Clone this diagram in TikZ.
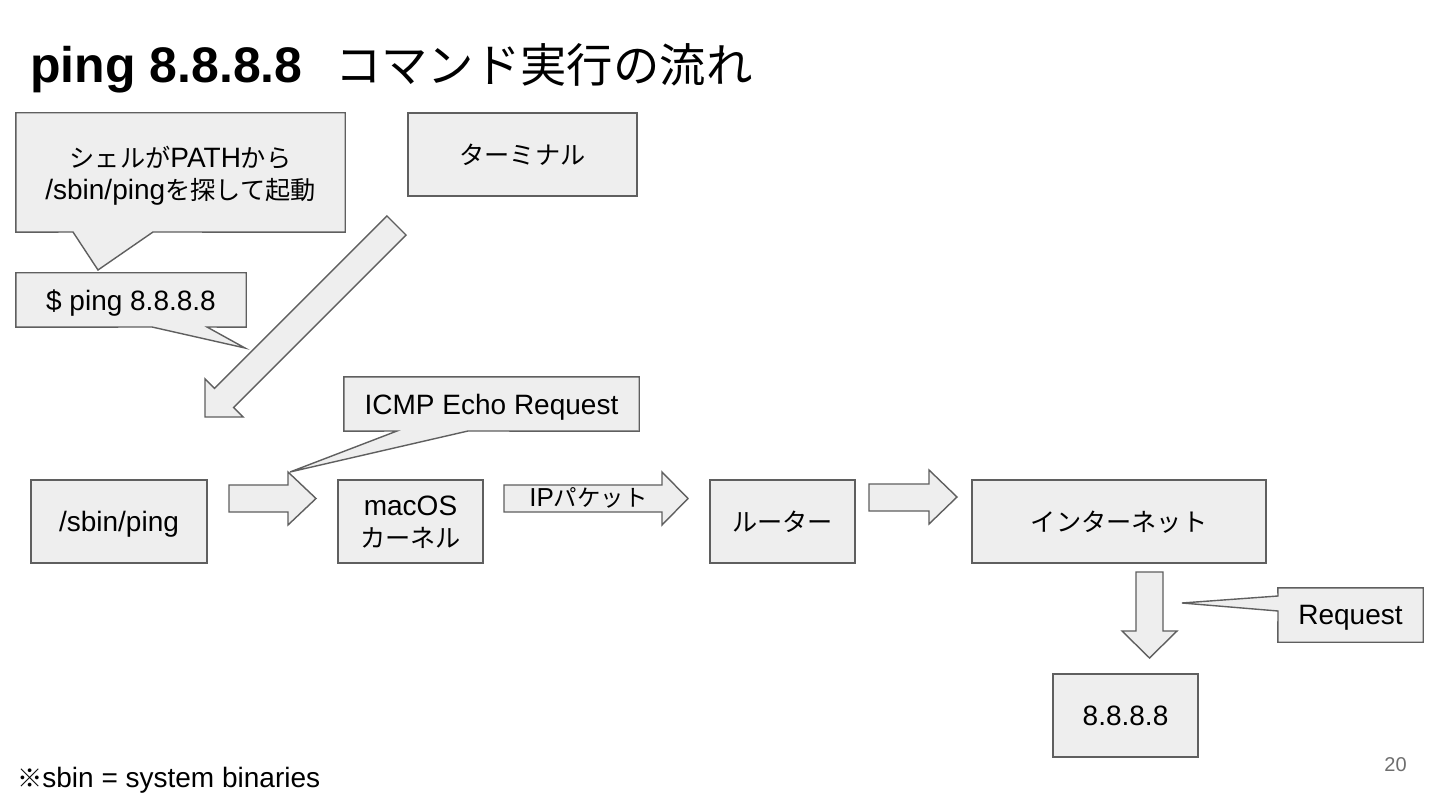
\documentclass[tikz,border=0pt]{standalone}
\usepackage{fontspec}
\setmainfont{Liberation Sans}
\newfontfamily\jp{Noto Sans CJK JP}[Scale=0.9]
\definecolor{bd}{HTML}{5F5F5F}
\definecolor{bg}{HTML}{EEEEEE}
\definecolor{pg}{HTML}{6E6E6E}
\pgfdeclarelayer{bgl}
\pgfsetlayers{bgl,main}
\begin{document}
\begin{tikzpicture}[x=1pt,y=-1pt,
  box/.style={draw=bd,fill=bg,line width=1.4pt,inner sep=0pt,align=center,
    text depth=0pt,font=\fontsize{28}{32}\selectfont},
  callbox/.style={inner sep=0pt,align=center,text depth=0pt,font=\fontsize{28}{32}\selectfont},
  shapeline/.style={draw=bd,fill=bg,line width=1.4pt,line join=miter}]
\useasboundingbox (0,0) rectangle (1440,810);
\begin{pgfonlayer}{bgl}
\fill[white] (0,0) rectangle (1440,810);
\end{pgfonlayer}

% title
\node[inner sep=0pt,anchor=base west,font=\fontsize{50}{56}\selectfont\bfseries] (title) at (30,83) {ping 8.8.8.8};
\node[inner sep=0pt,anchor=base west,font=\fontsize{51.5}{56}\selectfont] (titlejp) at (335,83) {\jp コマンド実行の流れ};

% main boxes
\node[box,minimum width=229pt,minimum height=83pt] (term) at (522.5,154.5) {\jp ターミナル};
\node[box,minimum width=176pt,minimum height=83pt] (sping) at (119,521.5) {/sbin/ping};
\node[box,minimum width=145pt,minimum height=83pt] (kern) at (410.5,521.5) {macOS\\{\jp カーネル}};
\node[box,minimum width=145pt,minimum height=83pt] (router) at (782.5,521.5) {\jp ルーター};
\node[box,minimum width=294pt,minimum height=83pt] (inet) at (1119,521.5) {\jp インターネット};
\node[box,minimum width=145pt,minimum height=83pt] (dest) at (1125.5,715.5) {8.8.8.8};

% callouts
\node[callbox,minimum width=329pt,minimum height=119pt] (c1) at (180.5,172.5) {{\jp シェルが}PATH{\jp から}\\/sbin/ping{\jp を探して起動}};
\node[callbox,minimum width=230pt,minimum height=54pt] (c2) at (131,300) {\$ ping 8.8.8.8};
\node[callbox,minimum width=295pt,minimum height=54pt] (c3) at (491.5,404) {ICMP Echo Request};
\node[callbox,minimum width=145pt,minimum height=54pt] (c4) at (1350.5,615) {Request};
\coordinate (t1) at (98,270);
\coordinate (t2) at (245,348);
\coordinate (t3) at (290,472);
\coordinate (t4) at (1182,603);

\begin{pgfonlayer}{bgl}
\draw[shapeline] (c1.north west) -- (c1.north east) -- (c1.south east) -- (153,232) -- (t1) -- (73,232) -- (c1.south west) -- cycle;
\draw[shapeline] (c2.north west) -- (c2.north east) -- (c2.south east) -- (207,327) -- (t2) -- (152,327) -- (c2.south west) -- cycle;
\draw[shapeline] (c3.north west) -- (c3.north east) -- (c3.south east) -- (468,431) -- (t3) -- (397,431) -- (c3.south west) -- cycle;
\draw[shapeline] (c4.north west) -- (c4.north east) -- (c4.south east) -- (c4.south west) -- (1278,611) -- (t4) -- (1278,596) -- cycle;
\end{pgfonlayer}

% block arrows
\draw[shapeline] (386.95,215.95) -- (214.55,388.35) -- (205,378.8) -- (205,417) -- (243.2,417) -- (233.65,407.45) -- (406.05,235.05) -- cycle;
\draw[shapeline] (229,485) -- (288,485) -- (288,472) -- (316,498.5) -- (288,525) -- (288,512) -- (229,512) -- cycle;
\draw[shapeline] (504,485) -- (662,485) -- (662,472) -- (688,498.5) -- (662,525) -- (662,512) -- (504,512) -- cycle;
\draw[shapeline] (869,484) -- (929,484) -- (929,470) -- (957,497) -- (929,524) -- (929,511) -- (869,511) -- cycle;
\draw[shapeline] (1136,572) -- (1163,572) -- (1163,631) -- (1177,631) -- (1149.5,658) -- (1122,631) -- (1136,631) -- cycle;
\node[inner sep=0pt,font=\fontsize{26}{30}\selectfont] (iplbl) at (588.5,498) {IP{\jp パケット}};

% footer
\node[inner sep=0pt,anchor=base west,font=\fontsize{28}{32}\selectfont] (note) at (17,787) {{\jp ※}sbin = system binaries};
\node[inner sep=0pt,font=\fontsize{20}{24}\selectfont,text=pg] (page) at (1395.5,765) {20};
\end{tikzpicture}
\end{document}
